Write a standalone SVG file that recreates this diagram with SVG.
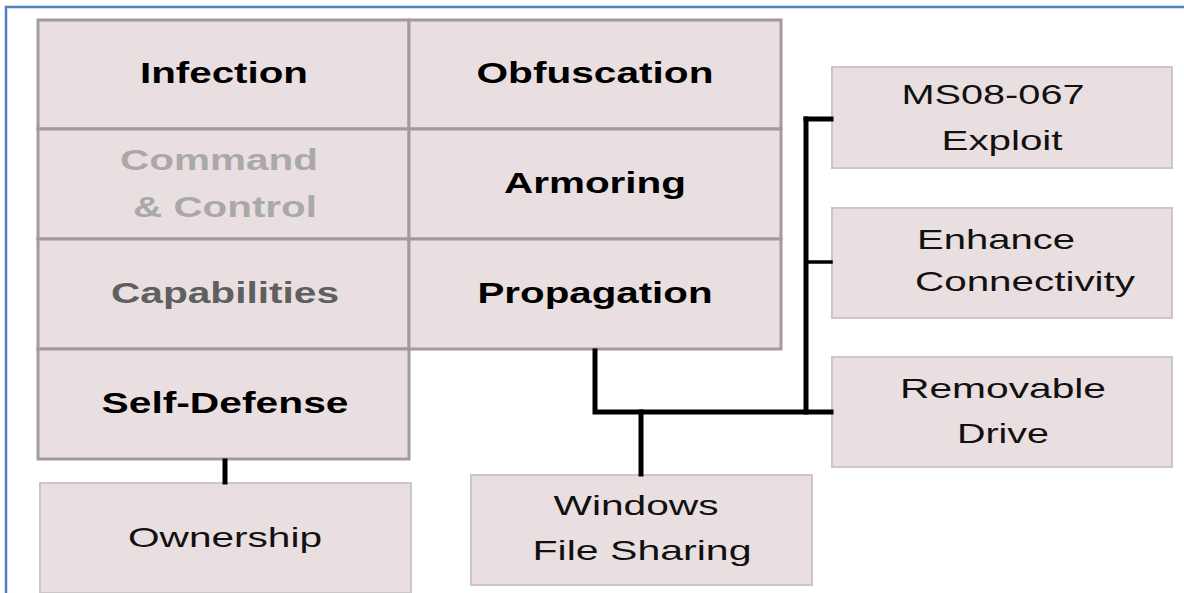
<svg xmlns="http://www.w3.org/2000/svg" width="1184" height="593" viewBox="0 0 1184 593">
<style>
.cell{fill:#eadfe0;stroke:#a39a9b;stroke-width:3}
.box{fill:#eadfe0;stroke:#cdc6c6;stroke-width:2}
.b{font-family:"Liberation Sans",Arial,sans-serif;font-weight:bold;font-size:29px;text-anchor:middle;fill:#000}
.r{font-family:"Liberation Sans",Arial,sans-serif;font-size:28.5px;text-anchor:middle;fill:#111}
.con{stroke:#000;stroke-width:5;fill:none;stroke-linecap:square;stroke-linejoin:miter}
</style>
<rect x="0" y="0" width="1184" height="593" fill="#fff"/>
<rect x="6" y="7" width="1200" height="620" fill="none" stroke="#4f81bd" stroke-width="2.5"/>
<g id="infection"><rect class="cell" x="38" y="20" width="371" height="109"/><text class="b" transform="translate(224,83) scale(1.38,1)" textLength="121.7" lengthAdjust="spacingAndGlyphs">Infection</text></g>
<g id="obfuscation"><rect class="cell" x="409" y="20" width="372" height="109"/><text class="b" transform="translate(595,83) scale(1.38,1)" textLength="171.7" lengthAdjust="spacingAndGlyphs">Obfuscation</text></g>
<g id="command-control"><rect class="cell" x="38" y="129" width="371" height="110"/><text class="b" transform="translate(219,170) scale(1.38,1)" style="fill:#a9a9a9" textLength="143.5" lengthAdjust="spacingAndGlyphs">Command</text><text class="b" transform="translate(225,217) scale(1.38,1)" style="fill:#a9a9a9" textLength="133.3" lengthAdjust="spacingAndGlyphs">&amp; Control</text></g>
<g id="armoring"><rect class="cell" x="409" y="129" width="372" height="110"/><text class="b" transform="translate(595,193) scale(1.38,1)" textLength="131.9" lengthAdjust="spacingAndGlyphs">Armoring</text></g>
<g id="capabilities"><rect class="cell" x="38" y="239" width="371" height="110"/><text class="b" transform="translate(225,303) scale(1.38,1)" style="fill:#5f5f5f" textLength="165.2" lengthAdjust="spacingAndGlyphs">Capabilities</text></g>
<g id="propagation"><rect class="cell" x="409" y="239" width="372" height="110"/><text class="b" transform="translate(595,303) scale(1.38,1)" textLength="170.3" lengthAdjust="spacingAndGlyphs">Propagation</text></g>
<g id="self-defense"><rect class="cell" x="38" y="349" width="371" height="110"/><text class="b" transform="translate(225,413) scale(1.38,1)" textLength="179" lengthAdjust="spacingAndGlyphs">Self-Defense</text></g>
<g id="ownership"><rect class="box" x="40" y="483" width="371" height="110"/><text class="r" transform="translate(225,547) scale(1.38,1)" textLength="140.6" lengthAdjust="spacingAndGlyphs">Ownership</text></g>
<g id="ms08-067"><rect class="box" x="832" y="67" width="340" height="101"/><text class="r" transform="translate(993,104) scale(1.38,1)" textLength="132.6" lengthAdjust="spacingAndGlyphs">MS08-067</text><text class="r" transform="translate(1002,150) scale(1.38,1)" textLength="87.7" lengthAdjust="spacingAndGlyphs">Exploit</text></g>
<g id="enhance-connectivity"><rect class="box" x="832" y="208" width="340" height="110"/><text class="r" transform="translate(996,249) scale(1.38,1)" textLength="114.5" lengthAdjust="spacingAndGlyphs">Enhance</text><text class="r" transform="translate(1025,291) scale(1.38,1)" textLength="159.4" lengthAdjust="spacingAndGlyphs">Connectivity</text></g>
<g id="removable-drive"><rect class="box" x="832" y="357" width="340" height="110"/><text class="r" transform="translate(1003,398) scale(1.38,1)" textLength="149.3" lengthAdjust="spacingAndGlyphs">Removable</text><text class="r" transform="translate(1003,443) scale(1.38,1)" textLength="66.7" lengthAdjust="spacingAndGlyphs">Drive</text></g>
<g id="windows-file-sharing"><rect class="box" x="471" y="475" width="341" height="110"/><text class="r" transform="translate(636,515) scale(1.38,1)" textLength="119.6" lengthAdjust="spacingAndGlyphs">Windows</text><text class="r" transform="translate(642,560) scale(1.38,1)" textLength="158.7" lengthAdjust="spacingAndGlyphs">File Sharing</text></g>
<g id="connectors">
<line class="con" x1="225" y1="461" x2="225" y2="482"/>
<polyline class="con" points="595,351 595,412 831,412"/>
<line class="con" x1="641" y1="412" x2="641" y2="474"/>
<line class="con" x1="806" y1="119" x2="806" y2="412"/>
<line class="con" x1="806" y1="119" x2="831" y2="119"/>
<line class="con" x1="806" y1="262" x2="831" y2="262" style="stroke-width:3.5"/>
</g>
</svg>
